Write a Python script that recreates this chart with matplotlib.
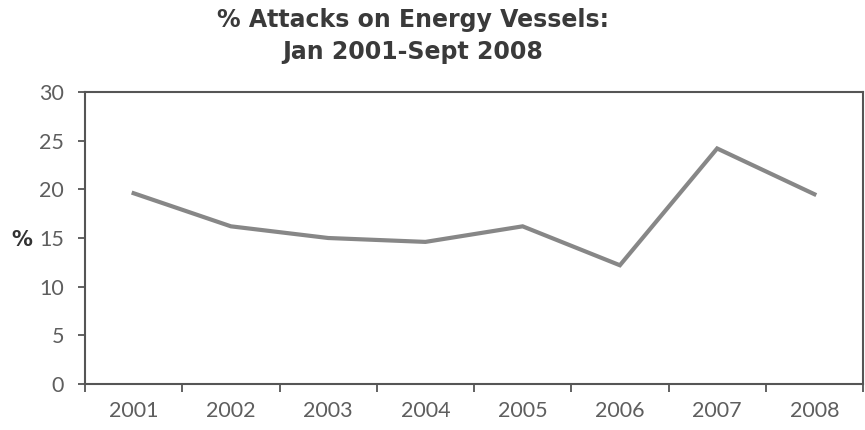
import matplotlib.pyplot as plt
import numpy as np

years = ['2001', '2002', '2003', '2004', '2005', '2006', '2007', '2008']
pct_energy = [19.6, 16.2, 15.0, 14.6, 16.2, 12.2, 24.2, 19.5]

fig = plt.figure(figsize=(8.65, 4.30), dpi=100)
ax = fig.add_axes([0.0983, 0.107, 0.8994, 0.679])

x = np.arange(len(years))
ax.plot(x, pct_energy, color='#878787', linewidth=3.0, solid_joinstyle='miter')

# category axis: labels at centres, tick marks on the boundaries
ax.set_xlim(-0.5, len(years) - 0.5)
ax.set_xticks(x)
ax.set_xticklabels(years, fontsize=15.5, color='#5e5e5e', fontfamily='Lato')
ax.set_xticks(np.arange(-0.5, len(years)), minor=True)
ax.tick_params(axis='x', which='major', length=0, pad=12)
ax.tick_params(axis='x', which='minor', length=6, width=1.3, color='#555555')

ax.set_ylim(0, 30)
ax.set_yticks(np.arange(0, 31, 5))
ax.set_yticklabels([str(v) for v in range(0, 31, 5)], fontsize=15.5,
                   color='#5e5e5e', fontfamily='Lato')
ax.tick_params(axis='y', length=5, width=1.3, color='#555555', pad=10)

for s in ax.spines.values():
    s.set_color('#555555')
    s.set_linewidth(1.5)

fig.text(0.013, 0.442, '%', fontsize=15, fontweight='bold', color='#333333',
         va='center', ha='left')

fig.text(0.477, 0.953, '% Attacks on Energy Vessels:', fontsize=17,
         fontweight='bold', color='#3a3a3a', ha='center', va='center')
fig.text(0.477, 0.880, 'Jan 2001-Sept 2008', fontsize=17,
         fontweight='bold', color='#3a3a3a', ha='center', va='center')

fig.savefig('out.png', dpi=100, facecolor='white')
